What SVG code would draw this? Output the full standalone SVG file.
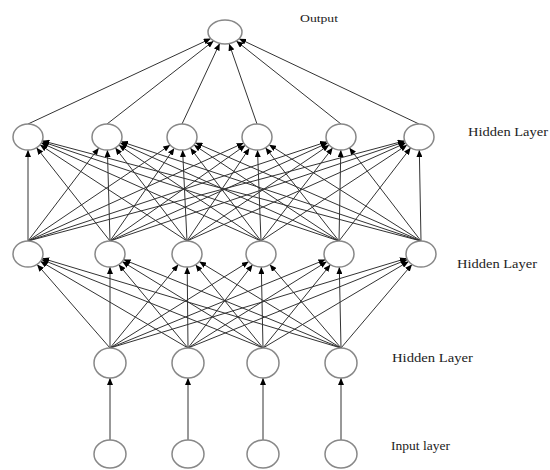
<svg xmlns="http://www.w3.org/2000/svg" width="550" height="470" viewBox="0 0 550 470">
<style>
.node{fill:#fff;stroke:#888;stroke-width:1.5}
.edge{stroke:#333;stroke-width:1;fill:none;marker-end:url(#arr)}
.lbl{font-family:"Liberation Serif","DejaVu Serif",serif;fill:#222}
</style>
<defs>
<marker id="arr" markerUnits="userSpaceOnUse" markerWidth="8" markerHeight="6" refX="7" refY="3" orient="auto">
<path d="M0,0 L7,3 L0,6 z" fill="#000"/>
</marker>
</defs>
<rect width="550" height="470" fill="#fff"/>
<g id="connectors">
<!-- top hidden to output -->
<line class="edge" x1="28" y1="124" x2="210.8" y2="38.6"/>
<line class="edge" x1="107" y1="124" x2="213.6" y2="40.9"/>
<line class="edge" x1="182" y1="124" x2="219.7" y2="43.4"/>
<line class="edge" x1="257" y1="124" x2="229.1" y2="43.7"/>
<line class="edge" x1="341" y1="124" x2="236.3" y2="41.0"/>
<line class="edge" x1="419" y1="124" x2="239.1" y2="38.7"/>
<!-- middle hidden to top hidden -->
<line class="edge" x1="28" y1="241" x2="28" y2="150"/>
<line class="edge" x1="28" y1="241" x2="98.8" y2="147.9"/>
<line class="edge" x1="28" y1="241" x2="170.2" y2="145.0"/>
<line class="edge" x1="28" y1="241" x2="243.7" y2="143.0"/>
<line class="edge" x1="28" y1="241" x2="327.0" y2="141.7"/>
<line class="edge" x1="28" y1="241" x2="404.7" y2="140.8"/>
<line class="edge" x1="110" y1="241" x2="36.5" y2="147.7"/>
<line class="edge" x1="110" y1="241" x2="107.4" y2="150"/>
<line class="edge" x1="110" y1="241" x2="174.3" y2="148.2"/>
<line class="edge" x1="110" y1="241" x2="245.4" y2="145.2"/>
<line class="edge" x1="110" y1="241" x2="327.7" y2="143.0"/>
<line class="edge" x1="110" y1="241" x2="405.0" y2="141.7"/>
<line class="edge" x1="187" y1="241" x2="40.0" y2="144.8"/>
<line class="edge" x1="187" y1="241" x2="115.3" y2="147.8"/>
<line class="edge" x1="187" y1="241" x2="182.6" y2="150"/>
<line class="edge" x1="187" y1="241" x2="249.4" y2="148.2"/>
<line class="edge" x1="187" y1="241" x2="329.2" y2="145.0"/>
<line class="edge" x1="187" y1="241" x2="405.7" y2="143.0"/>
<line class="edge" x1="261" y1="241" x2="41.3" y2="143.0"/>
<line class="edge" x1="261" y1="241" x2="118.8" y2="145.0"/>
<line class="edge" x1="261" y1="241" x2="190.3" y2="147.9"/>
<line class="edge" x1="261" y1="241" x2="257.5" y2="150"/>
<line class="edge" x1="261" y1="241" x2="332.7" y2="147.8"/>
<line class="edge" x1="261" y1="241" x2="407.1" y2="144.9"/>
<line class="edge" x1="339" y1="241" x2="42.0" y2="141.7"/>
<line class="edge" x1="339" y1="241" x2="120.3" y2="143.0"/>
<line class="edge" x1="339" y1="241" x2="193.9" y2="144.9"/>
<line class="edge" x1="339" y1="241" x2="265.5" y2="147.7"/>
<line class="edge" x1="339" y1="241" x2="340.8" y2="150"/>
<line class="edge" x1="339" y1="241" x2="410.7" y2="147.8"/>
<line class="edge" x1="421" y1="241" x2="42.4" y2="140.8"/>
<line class="edge" x1="421" y1="241" x2="121.0" y2="141.6"/>
<line class="edge" x1="421" y1="241" x2="195.4" y2="142.8"/>
<line class="edge" x1="421" y1="241" x2="269.1" y2="144.7"/>
<line class="edge" x1="421" y1="241" x2="349.3" y2="147.8"/>
<line class="edge" x1="421" y1="241" x2="419.3" y2="150"/>
<!-- bottom hidden to middle hidden -->
<line class="edge" x1="110" y1="348" x2="37.1" y2="264.4"/>
<line class="edge" x1="110" y1="348" x2="110" y2="267"/>
<line class="edge" x1="110" y1="348" x2="178.3" y2="264.6"/>
<line class="edge" x1="110" y1="348" x2="248.8" y2="261.6"/>
<line class="edge" x1="110" y1="348" x2="325.4" y2="259.6"/>
<line class="edge" x1="110" y1="348" x2="406.8" y2="258.3"/>
<line class="edge" x1="188" y1="348" x2="40.4" y2="261.3"/>
<line class="edge" x1="188" y1="348" x2="118.7" y2="264.6"/>
<line class="edge" x1="188" y1="348" x2="187.2" y2="267"/>
<line class="edge" x1="188" y1="348" x2="252.6" y2="264.7"/>
<line class="edge" x1="188" y1="348" x2="326.8" y2="261.6"/>
<line class="edge" x1="188" y1="348" x2="407.4" y2="259.5"/>
<line class="edge" x1="263" y1="348" x2="41.6" y2="259.5"/>
<line class="edge" x1="263" y1="348" x2="122.2" y2="261.5"/>
<line class="edge" x1="263" y1="348" x2="195.6" y2="264.7"/>
<line class="edge" x1="263" y1="348" x2="261.3" y2="267"/>
<line class="edge" x1="263" y1="348" x2="330.4" y2="264.7"/>
<line class="edge" x1="263" y1="348" x2="408.6" y2="261.4"/>
<line class="edge" x1="341" y1="348" x2="42.2" y2="258.3"/>
<line class="edge" x1="341" y1="348" x2="123.6" y2="259.6"/>
<line class="edge" x1="341" y1="348" x2="199.2" y2="261.6"/>
<line class="edge" x1="341" y1="348" x2="269.8" y2="264.6"/>
<line class="edge" x1="341" y1="348" x2="339.3" y2="267"/>
<line class="edge" x1="341" y1="348" x2="412.0" y2="264.4"/>
<!-- input to bottom hidden -->
<line class="edge" x1="110" y1="440" x2="110" y2="378"/>
<line class="edge" x1="188" y1="440" x2="188" y2="378"/>
<line class="edge" x1="263" y1="440" x2="263" y2="378"/>
<line class="edge" x1="341" y1="440" x2="341" y2="378"/>
</g>
<g id="output"><ellipse class="node" cx="225" cy="32" rx="17" ry="12"/></g>
<g id="h3-1"><ellipse class="node" cx="28" cy="137" rx="15" ry="13"/></g>
<g id="h3-2"><ellipse class="node" cx="107" cy="137" rx="15" ry="13"/></g>
<g id="h3-3"><ellipse class="node" cx="182" cy="137" rx="15" ry="13"/></g>
<g id="h3-4"><ellipse class="node" cx="257" cy="137" rx="15" ry="13"/></g>
<g id="h3-5"><ellipse class="node" cx="341" cy="137" rx="15" ry="13"/></g>
<g id="h3-6"><ellipse class="node" cx="419" cy="137" rx="15" ry="13"/></g>
<g id="h2-1"><ellipse class="node" cx="28" cy="254" rx="15" ry="13"/></g>
<g id="h2-2"><ellipse class="node" cx="110" cy="254" rx="15" ry="13"/></g>
<g id="h2-3"><ellipse class="node" cx="187" cy="254" rx="15" ry="13"/></g>
<g id="h2-4"><ellipse class="node" cx="261" cy="254" rx="15" ry="13"/></g>
<g id="h2-5"><ellipse class="node" cx="339" cy="254" rx="15" ry="13"/></g>
<g id="h2-6"><ellipse class="node" cx="421" cy="254" rx="15" ry="13"/></g>
<g id="h1-1"><ellipse class="node" cx="110" cy="363" rx="16" ry="15"/></g>
<g id="h1-2"><ellipse class="node" cx="188" cy="363" rx="16" ry="15"/></g>
<g id="h1-3"><ellipse class="node" cx="263" cy="363" rx="16" ry="15"/></g>
<g id="h1-4"><ellipse class="node" cx="341" cy="363" rx="16" ry="15"/></g>
<g id="in-1"><ellipse class="node" cx="110" cy="454" rx="16" ry="14"/></g>
<g id="in-2"><ellipse class="node" cx="188" cy="454" rx="16" ry="14"/></g>
<g id="in-3"><ellipse class="node" cx="263" cy="454" rx="16" ry="14"/></g>
<g id="in-4"><ellipse class="node" cx="341" cy="454" rx="16" ry="14"/></g>
<g id="labels">
<text class="lbl" x="300" y="22" font-size="11" textLength="38" lengthAdjust="spacingAndGlyphs">Output</text>
<text class="lbl" x="468" y="136" font-size="13" textLength="80" lengthAdjust="spacingAndGlyphs">Hidden Layer</text>
<text class="lbl" x="457" y="268" font-size="13" textLength="80" lengthAdjust="spacingAndGlyphs">Hidden Layer</text>
<text class="lbl" x="392" y="362" font-size="13" textLength="81" lengthAdjust="spacingAndGlyphs">Hidden Layer</text>
<text class="lbl" x="391" y="450" font-size="12" textLength="59" lengthAdjust="spacingAndGlyphs">Input layer</text>
</g>
</svg>
